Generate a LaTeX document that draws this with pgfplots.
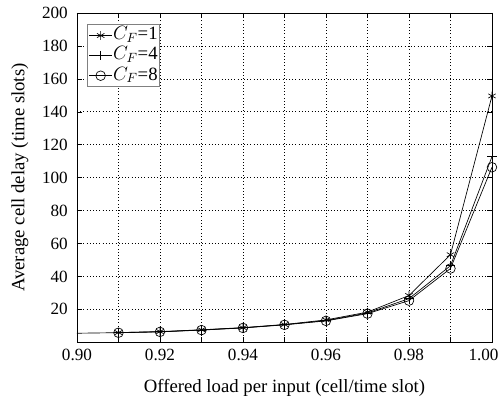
\documentclass[border=0pt]{standalone}
\usepackage{fontspec}
\setmainfont{Liberation Serif}
\usepackage{pgfplots}
\pgfplotsset{compat=1.18}
\begin{document}
\fontsize{14pt}{17pt}\selectfont
\begin{tikzpicture}
\begin{axis}[
  scale only axis,
  width=310pt, height=246pt,
  xmin=0.90, xmax=1.00, ymin=0, ymax=200,
  xtick={0.90,0.91,...,0.995},
  xticklabels={0.90,,0.92,,0.94,,0.96,,0.98,},
  extra x ticks={1.00},
  extra x tick labels={1.00},
  extra x tick style={grid=major, xticklabel style={xshift=-6.3pt}},
  ytick={20,40,...,200},
  /pgf/number format/assume math mode=true,
  tick align=inside,
  tick style={black, thin},
  major tick length=4pt,
  grid=major,
  grid style={black, dotted, line width=0.5pt},
  axis line style={black, line width=0.6pt},
  xlabel={Offered load per input (cell/time slot)},
  ylabel={Average cell delay (time slots)},
  xlabel style={at={(axis description cs:0.5,0)}, anchor=center, yshift=-34pt},
  ylabel style={at={(axis description cs:0,0.5)}, anchor=center, yshift=42.6pt},
  ticklabel style={font=\fontsize{12.8pt}{15pt}\selectfont},
  yticklabel style={xshift=-2pt},
  label style={font=\fontsize{14pt}{17pt}\selectfont},
  legend style={at={(axis description cs:0,1)}, anchor=north west, xshift=7.5pt, yshift=-8.2pt,
    draw=gray, line width=0.8pt,
    font=\fontsize{14pt}{17pt}\selectfont, inner sep=1pt, row sep=0.5pt,
    nodes={inner sep=0.5pt, text height=10pt, text depth=3.5pt},
    legend cell align=left},
  legend image code/.code={
    \draw[mark repeat=2,mark phase=2,#1] plot coordinates {(0cm,0cm) (0.3cm,0cm) (0.6cm,0cm)};
  },
]
\addplot[black, line width=0.5pt, mark=asterisk, mark size=3.2pt, mark options={solid}] coordinates {
(0.91,5.9) (0.92,6.5) (0.93,7.6) (0.94,8.9) (0.95,10.8) (0.96,13.6) (0.97,18.3) (0.98,28.4) (0.99,53.2) (1.00,149.6)};
\addlegendentry{$C_F$=1}
\addplot[black, line width=0.5pt, mark=+, mark size=3.5pt] coordinates {
(0.91,5.9) (0.92,6.4) (0.93,7.5) (0.94,8.8) (0.95,10.7) (0.96,13.2) (0.97,17.8) (0.98,26.5) (0.99,46.5) (1.00,112.7)};
\addlegendentry{$C_F$=4}
\addplot[black, line width=0.5pt, mark=o, mark size=3.6pt] coordinates {
(0.91,5.8) (0.92,6.3) (0.93,7.4) (0.94,8.7) (0.95,10.6) (0.96,13.0) (0.97,17.4) (0.98,25.3) (0.99,44.8) (1.00,106.3)};
\addlegendentry{$C_F$=8}
\addplot[black, line width=0.5pt, forget plot] coordinates {(0.89,5.1) (0.90,5.5) (0.91,5.85)};
\end{axis}
\pgfresetboundingbox
\path ([xshift=-57.5pt,yshift=-40.3pt]current axis.south west) rectangle ([xshift=7.5pt,yshift=9.7pt]current axis.north east);
\end{tikzpicture}
\end{document}
